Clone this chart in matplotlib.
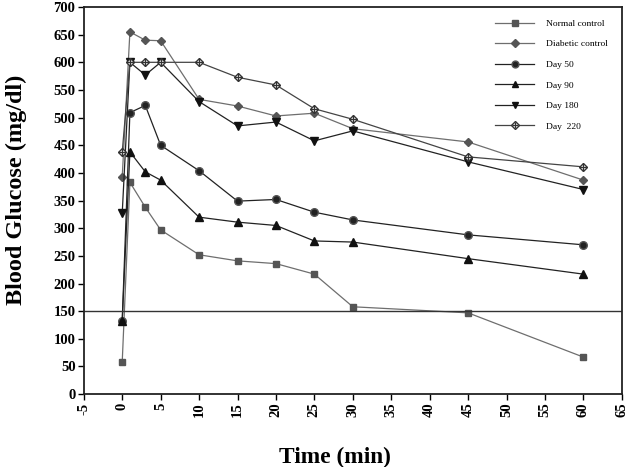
import matplotlib
matplotlib.use("Agg")
import matplotlib.pyplot as plt

time = [0, 1, 3, 5, 10, 15, 20, 25, 30, 45, 60]
normal_control = [58, 383, 338, 297, 252, 241, 236, 217, 158, 147, 67]
diabetic_control = [393, 655, 640, 639, 533, 521, 503, 508, 480, 456, 387]
day50 = [133, 509, 522, 450, 404, 349, 352, 329, 315, 288, 270]
day90 = [133, 438, 402, 387, 320, 311, 305, 277, 275, 245, 217]
day180 = [327, 600, 577, 600, 529, 485, 492, 458, 476, 420, 370]
day220 = [438, 600, 600, 600, 600, 573, 559, 516, 497, 429, 411]
threshold = 150

xticks = list(range(-5, 70, 5))
yticks = list(range(0, 750, 50))

plt.rcParams['font.family'] = ['Liberation Serif', 'DejaVu Serif']

fig = plt.figure(figsize=(6.3, 4.67), dpi=100)
ax = fig.add_axes([0.133, 0.156, 0.854, 0.829])

gray = '#6e6e6e'
dark = '#222222'
h1, = ax.plot(time, normal_control, color=gray, lw=0.9, marker='s', ms=5,
              mfc='#555555', mec='#555555', label='Normal control')
h2, = ax.plot(time, diabetic_control, color=gray, lw=0.9, marker='D', ms=4,
              mfc='#555555', mec='#555555', label='Diabetic control')
h3, = ax.plot(time, day50, color=dark, lw=0.9, marker='o', ms=5.5,
              mfc='#222222', mec='#555555', label='Day 50')
h4, = ax.plot(time, day90, color=dark, lw=0.9, marker='^', ms=5.5,
              mfc='#111111', mec='#111111', label='Day 90')
h5, = ax.plot(time, day180, color=dark, lw=0.9, marker='v', ms=5.5,
              mfc='#111111', mec='#111111', label='Day 180')
h6, = ax.plot(time, day220, color='#444444', lw=0.9, marker='D', ms=4.5,
              mfc='white', mec='#333333', label='Day  220')
h6b, = ax.plot(time, day220, ls='none', marker='+', ms=5.5, mew=0.9,
               color='#333333')

ax.axhline(threshold, color='#333333', lw=1)

ax.set_xlim(-5, 65)
ax.set_ylim(0, 700)
ax.set_xticks(xticks)
ax.set_yticks(yticks)
ax.set_xticklabels([str(t) for t in xticks], rotation=90, fontsize=10.5,
                   fontweight='bold')
ax.set_yticklabels([str(t) for t in yticks], fontsize=10.5, fontweight='bold')
ax.tick_params(direction='out', length=4, width=1, top=False, right=False,
               pad=2)
for s in ax.spines.values():
    s.set_linewidth(1.3)
    s.set_color('#222222')

ax.set_xlabel('Time (min)', fontsize=16.8, fontweight='bold')
ax.set_ylabel('Blood Glucose (mg/dl)', fontsize=17.5, fontweight='bold')
ax.xaxis.set_label_coords(0.467, -0.135)
ax.yaxis.set_label_coords(-0.106, 0.527)

leg = ax.legend([h1, h2, h3, h4, h5, (h6, h6b)],
                ['Normal control', 'Diabetic control', 'Day 50', 'Day 90',
                 'Day 180', 'Day  220'],
                loc='upper right', bbox_to_anchor=(0.99, 0.99), frameon=False,
                fontsize=6.8, labelspacing=1.26, handlelength=4.1,
                handletextpad=1.27, markerscale=0.9)

fig.savefig('out.png', dpi=100)
